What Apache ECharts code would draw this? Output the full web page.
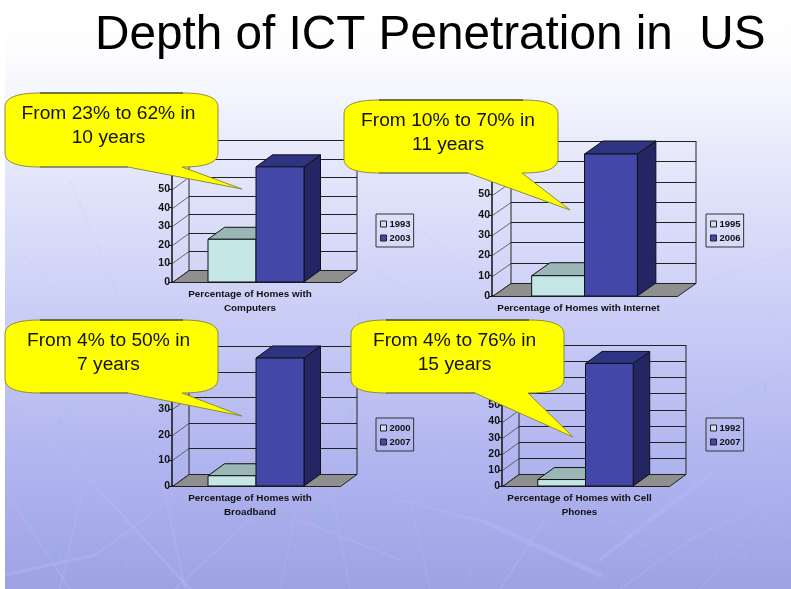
<!DOCTYPE html>
<html>
<head>
<meta charset="utf-8">
<title>Depth of ICT Penetration in US</title>
<script src="https://cdn.jsdelivr.net/npm/echarts@6/dist/echarts.min.js"></script>
<style>
html, body { margin: 0; padding: 0; background: #fff; }
#main { width: 791px; height: 589px; }
</style>
</head>
<body>
<div id="main"></div>
<script>
// values
var categories = [
    'Percentage of Homes with\nComputers',
    'Percentage of Homes with Internet',
    'Percentage of Homes with\nBroadband',
    'Percentage of Homes with Cell\nPhones'
];
var firstYears = ['1993', '1995', '2000', '1992'];
var secondYears = ['2003', '2006', '2007', '2007'];
var firstValues = [23, 10, 4, 4];
var secondValues = [62, 70, 50, 76];
var axisMax = [70, 70, 50, 80];
var calloutTexts = [
    'From 23% to 62% in\n10 years',
    'From 10% to 70% in\n11 years',
    'From 4% to 50% in\n7 years',
    'From 4% to 76% in\n15 years'
];
var titleText = 'Depth of ICT Penetration in  US';

// where each small chart sits on the slide
var frames = [
    {left: 172, top: 152, width: 168, height: 130, dx: 16.5, dy: -12, legendLeft: 376, legendTop: 214},
    {left: 492, top: 154, width: 185, height: 142, dx: 18.5, dy: -13, legendLeft: 706, legendTop: 214},
    {left: 172, top: 358, width: 168, height: 128, dx: 16.5, dy: -12, legendLeft: 376, legendTop: 418},
    {left: 502, top: 357, width: 167, height: 129, dx: 16.5, dy: -12, legendLeft: 706, legendTop: 418}
];
var bubbles = [
    {x0: 5, x1: 218, y0: 93, y1: 167, tx: 242, ty: 189, b0: 128, b1: 182},
    {x0: 344, x1: 558, y0: 100, y1: 173, tx: 570, ty: 210, b0: 468, b1: 522},
    {x0: 5, x1: 218, y0: 320, y1: 393, tx: 242, ty: 416, b0: 128, b1: 182},
    {x0: 351, x1: 564, y0: 320, y1: 393, tx: 573, ty: 437, b0: 475, b1: 528}
];
// background twigs, only decoration: x1,y1,x2,y2,width
var twigs = [
    [90, 480, 190, 589, 3], [160, 470, 185, 589, 2], [60, 589, 85, 480, 1.5], [5, 490, 70, 589, 1.5],
    [5, 575, 95, 555, 3], [95, 555, 150, 515, 2], [150, 515, 200, 470, 1], [175, 589, 250, 520, 1.5],
    [260, 500, 400, 490, 1], [280, 589, 300, 490, 1], [350, 589, 330, 480, 1], [300, 520, 400, 560, 1.5],
    [400, 500, 485, 522, 2], [485, 522, 600, 575, 5], [600, 560, 650, 520, 4], [650, 520, 710, 475, 5],
    [500, 589, 545, 520, 1.5], [620, 589, 690, 540, 1.5], [690, 540, 791, 490, 1.5], [700, 589, 770, 510, 1],
    [430, 589, 410, 500, 1], [560, 480, 660, 560, 1], [730, 480, 791, 540, 1],
    [5, 400, 90, 480, 2], [40, 330, 90, 480, 1.5], [10, 450, 60, 430, 1], [130, 400, 175, 520, 1],
    [360, 310, 345, 440, 1.5], [345, 440, 420, 500, 1], [420, 420, 500, 520, 1], [640, 520, 700, 400, 1],
    [690, 420, 791, 370, 1.5], [700, 470, 760, 350, 1], [750, 470, 791, 430, 1], [760, 300, 791, 340, 1],
    [710, 280, 791, 250, 1], [20, 250, 70, 310, 1], [70, 180, 120, 300, 1], [360, 260, 440, 310, 1], [420, 230, 470, 270, 1]
];
// teal flecks in the background: x,y,length
var flecks = [
    [30, 520, 8], [48, 545, 6], [60, 555, 7], [105, 515, 5], [125, 560, 6], [195, 515, 6], [265, 530, 6],
    [318, 505, 16], [328, 510, 12], [385, 535, 6], [295, 545, 5], [425, 535, 8], [470, 570, 6], [530, 555, 6],
    [627, 510, 5], [680, 510, 5], [716, 555, 6], [745, 555, 5], [765, 510, 6], [450, 500, 5], [680, 440, 6],
    [740, 430, 8], [120, 440, 6], [60, 420, 5], [350, 410, 7], [765, 385, 6]
];

var colorLight = '#c5e6e6', colorLightTop = '#9bb6b6', colorLightSide = '#7f9c9c';
var colorBlue = '#4348a8', colorBlueTop = '#2f3482', colorBlueSide = '#232662';

// back wall, left wall and floor of the fake 3d box
function wallItem(frame) {
    return function (params, api) {
        var p = api.coord([0, api.value(1)]);
        var band = api.size([1, 0])[0];
        var x0 = Math.round(p[0] - band / 2) + 0.5, x1 = x0 + band;
        var y = Math.round(p[1]) + 0.5;
        var dx = frame.dx, dy = frame.dy;
        var line = {stroke: '#222', lineWidth: 1, fill: null};
        var kids = [
            {type: 'line', shape: {x1: x0 + dx, y1: y + dy, x2: x1 + dx, y2: y + dy}, style: line},
            {type: 'line', shape: {x1: x0, y1: y, x2: x0 + dx, y2: y + dy}, style: {stroke: '#333', lineWidth: 0.7}}
        ];
        if (api.value(1) === 0) {
            var top = api.coord([0, api.value(2)])[1];
            kids.unshift({
                type: 'polygon',
                shape: {points: [[x0, y], [x1, y], [x1 + dx, y + dy], [x0 + dx, y + dy]]},
                style: {fill: '#8f8f8f', stroke: '#222', lineWidth: 1}
            });
            kids.push(
                {type: 'line', shape: {x1: x0 + dx, y1: y + dy, x2: x0 + dx, y2: top + dy}, style: line},
                {type: 'line', shape: {x1: x1 + dx, y1: y + dy, x2: x1 + dx, y2: top + dy}, style: line}
            );
        }
        return {type: 'group', children: kids};
    };
}

function barItem(frame, slot, front, upper, side) {
    return function (params, api) {
        var p = api.coord([0, api.value(1)]);
        var base = api.coord([0, 0])[1];
        var w = api.size([1, 0])[0] / 3.5;
        var x = p[0] - w + slot * w;
        var y = p[1];
        var dx = frame.dx, dy = frame.dy;
        var edge = {stroke: '#111', lineWidth: 1};
        return {
            type: 'group',
            children: [
                {type: 'polygon', shape: {points: [[x + w, y], [x + w + dx, y + dy], [x + w + dx, base + dy], [x + w, base]]},
                    style: {fill: side, stroke: edge.stroke, lineWidth: 1}},
                {type: 'polygon', shape: {points: [[x, y], [x + dx, y + dy], [x + w + dx, y + dy], [x + w, y]]},
                    style: {fill: upper, stroke: edge.stroke, lineWidth: 1}},
                {type: 'rect', shape: {x: x, y: y, width: w, height: base - y},
                    style: {fill: front, stroke: edge.stroke, lineWidth: 1}}
            ]
        };
    };
}

// one rounded corner of the bubble, sampled as a quadratic curve
function corner(pts, ax, ay, cx, cy, bx, by) {
    for (var k = 0; k <= 10; k++) {
        var t = k / 10, s = 1 - t;
        pts.push([s * s * ax + 2 * s * t * cx + t * t * bx, s * s * ay + 2 * s * t * cy + t * t * by]);
    }
}

function bubblePoints(b) {
    var rx = 35, ry = 14;
    var pts = [];
    corner(pts, b.x1 - rx, b.y0, b.x1, b.y0, b.x1, b.y0 + ry);
    corner(pts, b.x1, b.y1 - ry, b.x1, b.y1, b.x1 - rx, b.y1);
    pts.push([b.b1, b.y1], [b.tx, b.ty], [b.b0, b.y1]);
    corner(pts, b.x0 + rx, b.y1, b.x0, b.y1, b.x0, b.y1 - ry);
    corner(pts, b.x0, b.y0 + ry, b.x0, b.y0, b.x0 + rx, b.y0);
    return pts;
}

var grids = [], xAxes = [], yAxes = [], legends = [], series = [], graphics = [];

twigs.forEach(function (d) {
    var upper = Math.min(d[1], d[3]);
    graphics.push({type: 'line', z: 0, shape: {x1: d[0], y1: d[1], x2: d[2], y2: d[3]},
        style: {stroke: '#b3b9fb', lineWidth: d[4], lineCap: 'round', opacity: upper > 350 ? 0.4 : 0.22}});
});
flecks.forEach(function (d) {
    graphics.push({type: 'line', z: 0, shape: {x1: d[0], y1: d[1], x2: d[0] + 1, y2: d[1] + d[2]},
        style: {stroke: '#86c6df', lineWidth: 3, lineCap: 'round', opacity: 0.25}});
});
graphics.push({type: 'rect', z: 1, shape: {x: 0, y: 0, width: 5, height: 589}, style: {fill: '#fff'}});

frames.forEach(function (f, i) {
    grids.push({left: f.left, top: f.top, width: f.width, height: f.height});
    xAxes.push({
        type: 'category',
        gridIndex: i,
        data: [categories[i]],
        axisLine: {lineStyle: {color: '#111', width: 1.5}},
        axisTick: {show: false},
        axisLabel: {
            interval: 0, color: '#111', fontFamily: 'Liberation Sans', fontWeight: 'bold',
            fontSize: 9.9, lineHeight: 14.5, margin: 5, padding: [0, 12, 0, 0]
        }
    });
    yAxes.push({
        type: 'value',
        gridIndex: i,
        min: 0,
        max: axisMax[i],
        interval: 10,
        splitLine: {show: false},
        axisLine: {show: true, lineStyle: {color: '#111', width: 1.5}},
        axisTick: {show: true, length: 3, lineStyle: {color: '#111'}},
        axisLabel: {color: '#111', fontFamily: 'Liberation Sans', fontWeight: 'bold', fontSize: 10.5, margin: 2}
    });
    legends.push({
        orient: 'vertical',
        left: f.legendLeft,
        top: f.legendTop,
        padding: [5, 3, 4, 4],
        itemWidth: 6,
        itemHeight: 6,
        itemGap: 4,
        borderColor: '#333',
        borderWidth: 1,
        selectedMode: false,
        textStyle: {color: '#111', fontFamily: 'Liberation Sans', fontWeight: 'bold', fontSize: 9.5, padding: [0, 0, 0, -2]},
        data: [
            {name: firstYears[i], icon: 'rect', itemStyle: {color: colorLight, borderColor: '#222', borderWidth: 1}},
            {name: secondYears[i], icon: 'rect', itemStyle: {color: colorBlue, borderColor: '#222', borderWidth: 1}}
        ]
    });

    var wallData = [];
    for (var v = 0; v <= axisMax[i]; v += 10) {
        wallData.push([0, v, axisMax[i]]);
    }
    series.push({
        type: 'custom', name: 'wall' + i, xAxisIndex: i, yAxisIndex: i, silent: true, z: 1,
        renderItem: wallItem(f), data: wallData
    });
    series.push({
        type: 'custom', name: firstYears[i], xAxisIndex: i, yAxisIndex: i, silent: true, z: 2,
        itemStyle: {color: colorLight},
        renderItem: barItem(f, 0, colorLight, colorLightTop, colorLightSide), data: [[0, firstValues[i]]]
    });
    series.push({
        type: 'custom', name: secondYears[i], xAxisIndex: i, yAxisIndex: i, silent: true, z: 3,
        itemStyle: {color: colorBlue},
        renderItem: barItem(f, 1, colorBlue, colorBlueTop, colorBlueSide), data: [[0, secondValues[i]]]
    });

    var b = bubbles[i];
    graphics.push({type: 'polygon', z: 50, shape: {points: bubblePoints(b)},
        style: {fill: '#ffff00', stroke: '#8c8c3c', lineWidth: 1}});
    graphics.push({type: 'line', z: 51, shape: {x1: b.x0 + 35, y1: b.y0, x2: b.x1 - 35, y2: b.y0},
        style: {stroke: '#222', lineWidth: 1}});
    graphics.push({type: 'line', z: 51, shape: {x1: b.x0 + 35, y1: b.y1, x2: b.b0, y2: b.y1},
        style: {stroke: '#666', lineWidth: 1}});
    graphics.push({
        type: 'text', z: 52,
        style: {
            text: calloutTexts[i], x: (b.x0 + b.x1) / 2 - 3, y: b.y0 + 9, align: 'center', verticalAlign: 'top',
            font: '19.2px "Liberation Sans"', lineHeight: 24, fill: '#111'
        }
    });
});

graphics.push({
    type: 'text', z: 60,
    style: {text: titleText, x: 95, y: 12, verticalAlign: 'top', font: '47.7px "Liberation Sans"', fill: '#000'}
});

var myChart = echarts.init(document.getElementById('main'));
myChart.setOption({
    animation: false,
    backgroundColor: {
        type: 'linear', x: 0, y: 0, x2: 0, y2: 1,
        colorStops: [
            {offset: 0, color: '#ffffff'},
            {offset: 0.09, color: '#fdfdff'},
            {offset: 0.25, color: '#e8eafb'},
            {offset: 0.55, color: '#c8ccf6'},
            {offset: 0.8, color: '#afb3ee'},
            {offset: 1, color: '#9ea2e4'}
        ]
    },
    grid: grids,
    xAxis: xAxes,
    yAxis: yAxes,
    legend: legends,
    series: series,
    graphic: {elements: graphics}
});
</script>
</body>
</html>
